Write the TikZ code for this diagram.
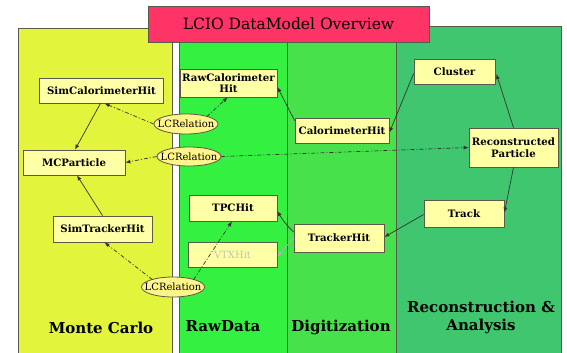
\documentclass[tikz,border=0pt]{standalone}
\usepackage{fontspec}
\setmainfont{DejaVu Serif}
\usetikzlibrary{arrows.meta,shapes.geometric,calc}

\definecolor{mcyellow}{HTML}{E2F43C}
\definecolor{rawgreen}{HTML}{34F040}
\definecolor{diggreen}{HTML}{47E24B}
\definecolor{recogreen}{HTML}{3FC66F}
\definecolor{titlered}{HTML}{FE3366}
\definecolor{boxfill}{HTML}{FFFFA6}
\definecolor{relfill}{HTML}{FFF58A}
\definecolor{edgegray}{HTML}{333333}
\definecolor{framegray}{HTML}{5A5A4A}
\definecolor{fadedtext}{HTML}{C4C4B4}

\tikzset{
  panel/.style={draw=framegray, line width=0.8pt},
  classbox/.style={draw=framegray, fill=boxfill, line width=0.8pt, inner sep=0pt,
    align=center, font=\bfseries\fontsize{10.2}{11.5}\selectfont},
  relnode/.style={ellipse, draw=framegray, fill=relfill, line width=0.8pt, inner sep=0pt,
    minimum width=64pt, minimum height=20pt, font=\fontsize{10}{11}\selectfont},
  arealabel/.style={font=\bfseries\fontsize{15}{18}\selectfont, align=center},
  link/.style={draw=edgegray, line width=0.7pt, -{Latex[length=5pt,width=4pt]}},
  rellink/.style={link, dash pattern=on 4pt off 2pt on 1pt off 2pt},
}

\begin{document}
\begin{tikzpicture}[x=1pt,y=-1pt]
\useasboundingbox (0,0) rectangle (567,353);

% background areas
\fill[white] (0,0) rectangle (567,353);
\draw[panel, fill=mcyellow] (18,28) rectangle (172,358);
\draw[panel, fill=rawgreen] (179,30) rectangle (287,358);
\draw[panel, fill=diggreen, draw=diggreen!50!black] (287,30) rectangle (396,358);
\draw[panel, fill=recogreen] (396,26) rectangle (561,358);

% title
\node[draw=framegray, fill=titlered, line width=0.8pt, minimum width=281pt, minimum height=36pt,
      inner sep=0pt, font=\fontsize{15.5}{18}\selectfont] (title) at (288.5,24) {LCIO DataModel Overview};

% classes
\node[classbox, minimum width=124pt, minimum height=25pt] (sch) at (101.5,90.5) {SimCalorimeterHit};
\node[classbox, minimum width=102pt, minimum height=25pt] (mcp) at (74,162.5) {MCParticle};
\node[classbox, minimum width=99pt, minimum height=26pt] (sth) at (102.5,229) {SimTrackerHit};
\node[classbox, minimum width=97pt, minimum height=28pt] (rch) at (228.5,83) {RawCalorimeter\\Hit};
\node[classbox, minimum width=88pt, minimum height=26pt] (tpc) at (233,208) {TPCHit};
\node[classbox, minimum width=89pt, minimum height=25pt, text=fadedtext, font=\fontsize{10}{11}\selectfont] (vtx) at (232.5,254.5) {VTXHit};
\node[classbox, minimum width=94pt, minimum height=25pt] (calh) at (342,130.5) {CalorimeterHit};
\node[classbox, minimum width=90pt, minimum height=28pt] (trh) at (339,238) {TrackerHit};
\node[classbox, minimum width=81pt, minimum height=25pt] (clu) at (454.5,71.5) {Cluster};
\node[classbox, minimum width=89pt, minimum height=39pt] (rp) at (513.5,147.5) {Reconstructed\\Particle};
\node[classbox, minimum width=80pt, minimum height=27pt] (trk) at (464,213.5) {Track};

% relations
\node[relnode] (rel1) at (186,124) {\makebox[0pt]{LCRelation}};
\node[relnode, minimum height=19pt] (rel2) at (189,156.5) {\makebox[0pt]{LCRelation}};
\node[relnode, minimum width=63pt] (rel3) at (173,287) {\makebox[0pt]{LCRelation}};

% area labels
\node[arealabel] (lmc) at (101,328) {Monte Carlo};
\node[arealabel] (lraw) at (223,326) {RawData};
\node[arealabel] (ldig) at (341,327) {Digitization};
\node[arealabel, font=\bfseries\fontsize{15}{18}\selectfont] (lreco) at (481,317) {Reconstruction \&\\Analysis};

% solid links
\draw[link] ([xshift=-1pt]sch.south) -- ([xshift=1pt]mcp.north);
\draw[link] (sth.north) -- ([xshift=3pt]mcp.south);
\draw[link] ([yshift=-3pt]calh.north west) -- ([yshift=-4pt]rch.east);
\draw[link] ([yshift=-2pt]clu.west) -- ([yshift=-2pt]calh.east);
\draw[link] (rp.north) -- ([xshift=1pt,yshift=-2.5pt]clu.east);
\draw[link] (rp.south) -- ([yshift=1pt]trk.east);
\draw[link] ([yshift=-1pt]trk.west) -- ([yshift=1pt]trh.east);
\draw[link] ([yshift=6pt]trh.west) to[bend left=8] ([yshift=-3pt]tpc.east);
\draw[link, draw=black!30] ([yshift=0pt]trh.west) -- ([yshift=-2pt]vtx.east);

% relation links
\draw[rellink] (rel1.west) -- ([xshift=3pt]sch.south);
\draw[rellink] ([xshift=-2pt]rel1.north east) -- ([xshift=-1pt]rch.south);
\draw[rellink] (rel2.west) -- (mcp.east);
\draw[rellink] (rel2.east) -- (rp.west);
\draw[rellink] ([xshift=2pt]rel3.north west) -- ([xshift=2pt]sth.south);
\draw[rellink] ([xshift=-2pt]rel3.north east) -- ([xshift=-1pt]tpc.south);
\end{tikzpicture}
\end{document}
